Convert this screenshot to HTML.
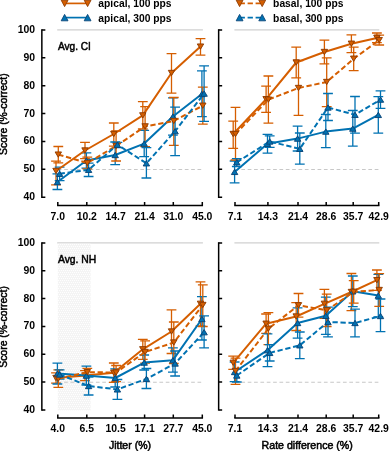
<!DOCTYPE html>
<html><head><meta charset="utf-8"><style>
html,body{margin:0;padding:0;background:#fff;}
body{width:389px;height:451px;overflow:hidden;}
svg{display:block;will-change:transform;}
text{font-family:"Liberation Sans",sans-serif;font-weight:bold;fill:#000;}
.tk{font-size:10.4px;}
.lg{font-size:10.3px;}
.lb{font-size:10.6px;font-weight:normal;stroke:#000;stroke-width:0.5px;}
.ax{font-size:10.3px;font-weight:normal;stroke:#000;stroke-width:0.5px;}
</style></head><body>
<svg width="389" height="451" viewBox="0 0 389 451" xmlns="http://www.w3.org/2000/svg">
<defs><pattern id="dots" width="4" height="4" patternUnits="userSpaceOnUse"><rect width="4" height="4" fill="#f4f4f4"/><rect x="0" y="0" width="1" height="1" fill="#fefefe"/><rect x="2" y="0" width="1" height="1" fill="#fefefe"/><rect x="1" y="2" width="1" height="1" fill="#fefefe"/><rect x="3" y="2" width="1" height="1" fill="#fefefe"/></pattern></defs>
<path d="M64.6 3.4H87.6" stroke="#D55E00" stroke-width="1.7"/>
<polygon points="61.2,0.2 68,0.2 64.6,6.6" fill="#D55E00" stroke="#8f3c00" stroke-width="0.9" stroke-linejoin="miter"/>
<polygon points="84.2,0.2 91,0.2 87.6,6.6" fill="#D55E00" stroke="#8f3c00" stroke-width="0.9" stroke-linejoin="miter"/>
<text x="98.3" y="7.3" class="lg">apical, 100 pps</text>
<path d="M64.6 17.6H87.6" stroke="#0072B2" stroke-width="1.7"/>
<polygon points="61.2,20.8 68,20.8 64.6,14.4" fill="#0072B2" stroke="#0a4577" stroke-width="0.9" stroke-linejoin="miter"/>
<polygon points="84.2,20.8 91,20.8 87.6,14.4" fill="#0072B2" stroke="#0a4577" stroke-width="0.9" stroke-linejoin="miter"/>
<text x="98.3" y="21.5" class="lg">apical, 300 pps</text>
<path d="M239.6 3.4H262.2" stroke="#D55E00" stroke-width="1.7" stroke-dasharray="5.3 2.7"/>
<polygon points="236.2,0.2 243,0.2 239.6,6.6" fill="#D55E00" stroke="#8f3c00" stroke-width="0.9" stroke-linejoin="miter"/>
<polygon points="258.8,0.2 265.6,0.2 262.2,6.6" fill="#D55E00" stroke="#8f3c00" stroke-width="0.9" stroke-linejoin="miter"/>
<text x="273.1" y="7.3" class="lg">basal, 100 pps</text>
<path d="M239.6 17.6H262.2" stroke="#0072B2" stroke-width="1.7" stroke-dasharray="5.3 2.7"/>
<polygon points="236.2,20.8 243,20.8 239.6,14.4" fill="#0072B2" stroke="#0a4577" stroke-width="0.9" stroke-linejoin="miter"/>
<polygon points="258.8,20.8 265.6,20.8 262.2,14.4" fill="#0072B2" stroke="#0a4577" stroke-width="0.9" stroke-linejoin="miter"/>
<text x="273.1" y="21.5" class="lg">basal, 300 pps</text>
<line x1="57.2" y1="29.95" x2="202.9" y2="29.95" stroke="#d0d0d0" stroke-width="1.2"/>
<line x1="57.8" y1="169.55" x2="202.3" y2="169.55" stroke="#c8c8c8" stroke-width="1.1" stroke-dasharray="3.7 2.65"/>
<path d="M41.85 29.95V197.23" stroke="#000" stroke-width="1.5" stroke-linecap="square" fill="none"/>
<path d="M41.85 197.23H45.35M41.85 169.35H45.35M41.85 141.47H45.35M41.85 113.59H45.35M41.85 85.71H45.35M41.85 57.83H45.35M41.85 29.95H45.35" stroke="#000" stroke-width="1.5" fill="none"/>
<text x="35" y="200.23" text-anchor="end" class="tk">40</text>
<text x="35" y="172.35" text-anchor="end" class="tk">50</text>
<text x="35" y="144.47" text-anchor="end" class="tk">60</text>
<text x="35" y="116.59" text-anchor="end" class="tk">70</text>
<text x="35" y="88.71" text-anchor="end" class="tk">80</text>
<text x="35" y="60.83" text-anchor="end" class="tk">90</text>
<text x="35" y="32.95" text-anchor="end" class="tk">100</text>
<path d="M57.8 205.6H202.3" stroke="#000" stroke-width="1.5" stroke-linecap="square" fill="none"/>
<path d="M57.8 205.6V202.1M86.8 205.6V202.1M115.6 205.6V202.1M144.6 205.6V202.1M173.3 205.6V202.1M202.3 205.6V202.1" stroke="#000" stroke-width="1.5" fill="none"/>
<text x="57.8" y="219.8" text-anchor="middle" class="tk">7.0</text>
<text x="86.8" y="219.8" text-anchor="middle" class="tk">10.2</text>
<text x="115.6" y="219.8" text-anchor="middle" class="tk">14.7</text>
<text x="144.6" y="219.8" text-anchor="middle" class="tk">21.4</text>
<text x="173.3" y="219.8" text-anchor="middle" class="tk">31.0</text>
<text x="202.3" y="219.8" text-anchor="middle" class="tk">45.0</text>
<text x="58" y="49.8" class="lb" textLength="32.9" lengthAdjust="spacingAndGlyphs">Avg. CI</text>
<line x1="234.4" y1="29.95" x2="379.3" y2="29.95" stroke="#d0d0d0" stroke-width="1.2"/>
<line x1="235" y1="169.55" x2="378.7" y2="169.55" stroke="#c8c8c8" stroke-width="1.1" stroke-dasharray="3.7 2.65"/>
<path d="M218.65 29.95V197.23" stroke="#000" stroke-width="1.5" stroke-linecap="square" fill="none"/>
<path d="M218.65 197.23H222.15M218.65 169.35H222.15M218.65 141.47H222.15M218.65 113.59H222.15M218.65 85.71H222.15M218.65 57.83H222.15M218.65 29.95H222.15" stroke="#000" stroke-width="1.5" fill="none"/>
<path d="M235 205.6H378.7" stroke="#000" stroke-width="1.5" stroke-linecap="square" fill="none"/>
<path d="M235 205.6V202.1M267.9 205.6V202.1M298 205.6V202.1M326.2 205.6V202.1M353.2 205.6V202.1M378.7 205.6V202.1" stroke="#000" stroke-width="1.5" fill="none"/>
<text x="235" y="219.8" text-anchor="middle" class="tk">7.1</text>
<text x="267.9" y="219.8" text-anchor="middle" class="tk">14.3</text>
<text x="298" y="219.8" text-anchor="middle" class="tk">21.4</text>
<text x="326.2" y="219.8" text-anchor="middle" class="tk">28.6</text>
<text x="353.2" y="219.8" text-anchor="middle" class="tk">35.7</text>
<text x="378.7" y="219.8" text-anchor="middle" class="tk">42.9</text>
<line x1="57.2" y1="242.95" x2="202.9" y2="242.95" stroke="#d0d0d0" stroke-width="1.2"/>
<rect x="57.8" y="243.55" width="32.8" height="166.85" fill="url(#dots)"/>
<line x1="57.8" y1="382.27" x2="202.3" y2="382.27" stroke="#c8c8c8" stroke-width="1.1" stroke-dasharray="3.7 2.65"/>
<path d="M41.85 242.95V409.9" stroke="#000" stroke-width="1.5" stroke-linecap="square" fill="none"/>
<path d="M41.85 409.9H45.35M41.85 382.07H45.35M41.85 354.25H45.35M41.85 326.43H45.35M41.85 298.6H45.35M41.85 270.77H45.35M41.85 242.95H45.35" stroke="#000" stroke-width="1.5" fill="none"/>
<text x="35" y="412.9" text-anchor="end" class="tk">40</text>
<text x="35" y="385.07" text-anchor="end" class="tk">50</text>
<text x="35" y="357.25" text-anchor="end" class="tk">60</text>
<text x="35" y="329.43" text-anchor="end" class="tk">70</text>
<text x="35" y="301.6" text-anchor="end" class="tk">80</text>
<text x="35" y="273.77" text-anchor="end" class="tk">90</text>
<text x="35" y="245.95" text-anchor="end" class="tk">100</text>
<path d="M57.8 418H202.3" stroke="#000" stroke-width="1.5" stroke-linecap="square" fill="none"/>
<path d="M57.8 418V414.5M86.8 418V414.5M115.6 418V414.5M144.6 418V414.5M173.3 418V414.5M202.3 418V414.5" stroke="#000" stroke-width="1.5" fill="none"/>
<text x="57.8" y="432.2" text-anchor="middle" class="tk">4.0</text>
<text x="86.8" y="432.2" text-anchor="middle" class="tk">6.5</text>
<text x="115.6" y="432.2" text-anchor="middle" class="tk">10.5</text>
<text x="144.6" y="432.2" text-anchor="middle" class="tk">17.1</text>
<text x="173.3" y="432.2" text-anchor="middle" class="tk">27.7</text>
<text x="202.3" y="432.2" text-anchor="middle" class="tk">45.0</text>
<text x="58" y="263.1" class="lb" textLength="38.3" lengthAdjust="spacingAndGlyphs">Avg. NH</text>
<line x1="234.4" y1="242.95" x2="379.3" y2="242.95" stroke="#d0d0d0" stroke-width="1.2"/>
<line x1="235" y1="382.27" x2="378.7" y2="382.27" stroke="#c8c8c8" stroke-width="1.1" stroke-dasharray="3.7 2.65"/>
<path d="M218.65 242.95V409.9" stroke="#000" stroke-width="1.5" stroke-linecap="square" fill="none"/>
<path d="M218.65 409.9H222.15M218.65 382.07H222.15M218.65 354.25H222.15M218.65 326.43H222.15M218.65 298.6H222.15M218.65 270.77H222.15M218.65 242.95H222.15" stroke="#000" stroke-width="1.5" fill="none"/>
<path d="M235 418H378.7" stroke="#000" stroke-width="1.5" stroke-linecap="square" fill="none"/>
<path d="M235 418V414.5M267.9 418V414.5M298 418V414.5M326.2 418V414.5M353.2 418V414.5M378.7 418V414.5" stroke="#000" stroke-width="1.5" fill="none"/>
<text x="235" y="432.2" text-anchor="middle" class="tk">7.1</text>
<text x="267.9" y="432.2" text-anchor="middle" class="tk">14.3</text>
<text x="298" y="432.2" text-anchor="middle" class="tk">21.4</text>
<text x="326.2" y="432.2" text-anchor="middle" class="tk">28.6</text>
<text x="353.2" y="432.2" text-anchor="middle" class="tk">35.7</text>
<text x="378.7" y="432.2" text-anchor="middle" class="tk">42.9</text>
<path d="M56 161.2V184.8M51.1 161.2H60.9M51.1 184.8H60.9M85 142.4V158.6M80.1 142.4H89.9M80.1 158.6H89.9M113.8 123V146.2M108.9 123H118.7M108.9 146.2H118.7M142.8 101.7V129M137.9 101.7H147.7M137.9 129H147.7M171.5 53.6V93.2M166.6 53.6H176.4M166.6 93.2H176.4M200.5 38.7V55.1M195.6 38.7H205.4M195.6 55.1H205.4" stroke="#D55E00" stroke-width="1.3" fill="none"/>
<path d="M57.4 173.8V189.5M52.5 173.8H62.3M52.5 189.5H62.3M86.4 152.8V168.2M81.5 152.8H91.3M81.5 168.2H91.3M115.2 142V164.7M110.3 142H120.1M110.3 164.7H120.1M144.2 130.4V156.6M139.3 130.4H149.1M139.3 156.6H149.1M172.9 97.9V135.1M168 97.9H177.8M168 135.1H177.8M201.9 70.9V116.7M197 70.9H206.8M197 116.7H206.8" stroke="#0072B2" stroke-width="1.3" fill="none"/>
<path d="M58.3 146.5V162.8M53.4 146.5H63.2M53.4 162.8H63.2M87.3 157.1V168.9M82.4 157.1H92.2M82.4 168.9H92.2M116.1 131V161M111.2 131H121M111.2 161H121M145.1 106.6V146.6M140.2 106.6H150M140.2 146.6H150M173.8 97.5V145.3M168.9 97.5H178.7M168.9 145.3H178.7M202.8 87.2V124.1M197.9 87.2H207.7M197.9 124.1H207.7" stroke="#D55E00" stroke-width="1.3" fill="none"/>
<path d="M59.6 167.1V180.6M54.7 167.1H64.5M54.7 180.6H64.5M88.6 163.1V176.5M83.7 163.1H93.5M83.7 176.5H93.5M117.4 142.4V147.6M112.5 142.4H122.3M112.5 147.6H122.3M146.4 147.7V178M141.5 147.7H151.3M141.5 178H151.3M175.1 107.2V155.7M170.2 107.2H180M170.2 155.7H180M204.1 65.9V121.3M199.2 65.9H209M199.2 121.3H209" stroke="#0072B2" stroke-width="1.3" fill="none"/>
<path d="M56 171 L85 150.5 L113.8 134 L142.8 115.4 L171.5 73 L200.5 46.6" stroke="#D55E00" stroke-width="2.0" fill="none" stroke-linejoin="round"/>
<polygon points="52.8,168.34 59.2,168.34 56,173.66" fill="#D55E00" stroke="#8f3c00" stroke-width="0.95" stroke-linejoin="miter"/>
<polygon points="81.8,147.84 88.2,147.84 85,153.16" fill="#D55E00" stroke="#8f3c00" stroke-width="0.95" stroke-linejoin="miter"/>
<polygon points="110.6,131.34 117,131.34 113.8,136.66" fill="#D55E00" stroke="#8f3c00" stroke-width="0.95" stroke-linejoin="miter"/>
<polygon points="139.6,112.74 146,112.74 142.8,118.06" fill="#D55E00" stroke="#8f3c00" stroke-width="0.95" stroke-linejoin="miter"/>
<polygon points="168.3,70.34 174.7,70.34 171.5,75.66" fill="#D55E00" stroke="#8f3c00" stroke-width="0.95" stroke-linejoin="miter"/>
<polygon points="197.3,43.94 203.7,43.94 200.5,49.26" fill="#D55E00" stroke="#8f3c00" stroke-width="0.95" stroke-linejoin="miter"/>
<path d="M57.4 182 L86.4 160.5 L115.2 155 L144.2 143.6 L172.9 116.5 L201.9 94" stroke="#0072B2" stroke-width="2.0" fill="none" stroke-linejoin="round"/>
<polygon points="54.2,184.66 60.6,184.66 57.4,179.34" fill="#0072B2" stroke="#0a4577" stroke-width="0.95" stroke-linejoin="miter"/>
<polygon points="83.2,163.16 89.6,163.16 86.4,157.84" fill="#0072B2" stroke="#0a4577" stroke-width="0.95" stroke-linejoin="miter"/>
<polygon points="112,157.66 118.4,157.66 115.2,152.34" fill="#0072B2" stroke="#0a4577" stroke-width="0.95" stroke-linejoin="miter"/>
<polygon points="141,146.26 147.4,146.26 144.2,140.94" fill="#0072B2" stroke="#0a4577" stroke-width="0.95" stroke-linejoin="miter"/>
<polygon points="169.7,119.16 176.1,119.16 172.9,113.84" fill="#0072B2" stroke="#0a4577" stroke-width="0.95" stroke-linejoin="miter"/>
<polygon points="198.7,96.66 205.1,96.66 201.9,91.34" fill="#0072B2" stroke="#0a4577" stroke-width="0.95" stroke-linejoin="miter"/>
<path d="M58.3 154.6 L87.3 163 L116.1 146 L145.1 126.4 L173.8 121 L202.8 105.7" stroke="#D55E00" stroke-width="2.0" fill="none" stroke-linejoin="round" stroke-dasharray="5.3 2.7"/>
<polygon points="55.1,151.94 61.5,151.94 58.3,157.26" fill="#D55E00" stroke="#8f3c00" stroke-width="0.95" stroke-linejoin="miter"/>
<polygon points="84.1,160.34 90.5,160.34 87.3,165.66" fill="#D55E00" stroke="#8f3c00" stroke-width="0.95" stroke-linejoin="miter"/>
<polygon points="112.9,143.34 119.3,143.34 116.1,148.66" fill="#D55E00" stroke="#8f3c00" stroke-width="0.95" stroke-linejoin="miter"/>
<polygon points="141.9,123.74 148.3,123.74 145.1,129.06" fill="#D55E00" stroke="#8f3c00" stroke-width="0.95" stroke-linejoin="miter"/>
<polygon points="170.6,118.34 177,118.34 173.8,123.66" fill="#D55E00" stroke="#8f3c00" stroke-width="0.95" stroke-linejoin="miter"/>
<polygon points="199.6,103.04 206,103.04 202.8,108.36" fill="#D55E00" stroke="#8f3c00" stroke-width="0.95" stroke-linejoin="miter"/>
<path d="M59.6 173.8 L88.6 169.8 L117.4 144.7 L146.4 163.3 L175.1 131.2 L204.1 93.6" stroke="#0072B2" stroke-width="2.0" fill="none" stroke-linejoin="round" stroke-dasharray="5.3 2.7"/>
<polygon points="56.4,176.46 62.8,176.46 59.6,171.14" fill="#0072B2" stroke="#0a4577" stroke-width="0.95" stroke-linejoin="miter"/>
<polygon points="85.4,172.46 91.8,172.46 88.6,167.14" fill="#0072B2" stroke="#0a4577" stroke-width="0.95" stroke-linejoin="miter"/>
<polygon points="114.2,147.36 120.6,147.36 117.4,142.04" fill="#0072B2" stroke="#0a4577" stroke-width="0.95" stroke-linejoin="miter"/>
<polygon points="143.2,165.96 149.6,165.96 146.4,160.64" fill="#0072B2" stroke="#0a4577" stroke-width="0.95" stroke-linejoin="miter"/>
<polygon points="171.9,133.86 178.3,133.86 175.1,128.54" fill="#0072B2" stroke="#0a4577" stroke-width="0.95" stroke-linejoin="miter"/>
<polygon points="200.9,96.26 207.3,96.26 204.1,90.94" fill="#0072B2" stroke="#0a4577" stroke-width="0.95" stroke-linejoin="miter"/>
<path d="M233.2 121.1V148.3M228.3 121.1H238.1M228.3 148.3H238.1M266.1 86.2V112.3M261.2 86.2H271M261.2 112.3H271M296.2 47.1V77.8M291.3 47.1H301.1M291.3 77.8H301.1M324.4 40.1V63.8M319.5 40.1H329.3M319.5 63.8H329.3M351.4 34.8V52.6M346.5 34.8H356.3M346.5 52.6H356.3M376.9 33V42.7M372 33H381.8M372 42.7H381.8" stroke="#D55E00" stroke-width="1.3" fill="none"/>
<path d="M234.6 161V182.8M229.7 161H239.5M229.7 182.8H239.5M267.5 134.4V153.2M262.6 134.4H272.4M262.6 153.2H272.4M297.6 126.1V151M292.7 126.1H302.5M292.7 151H302.5M325.8 114.5V147.7M320.9 114.5H330.7M320.9 147.7H330.7M352.8 110.5V146.2M347.9 110.5H357.7M347.9 146.2H357.7M378.3 96.6V133.2M373.4 96.6H383.2M373.4 133.2H383.2" stroke="#0072B2" stroke-width="1.3" fill="none"/>
<path d="M235.5 107.3V160M230.6 107.3H240.4M230.6 160H240.4M268.4 76V123.2M263.5 76H273.3M263.5 123.2H273.3M298.5 60.5V115.4M293.6 60.5H303.4M293.6 115.4H303.4M326.7 57.8V106.7M321.8 57.8H331.6M321.8 106.7H331.6M353.7 47.2V70.7M348.8 47.2H358.6M348.8 70.7H358.6M379.2 35.2V45M374.3 35.2H384.1M374.3 45H384.1" stroke="#D55E00" stroke-width="1.3" fill="none"/>
<path d="M236.8 158.6V166.5M231.9 158.6H241.7M231.9 166.5H241.7M269.7 135.8V147.3M264.8 135.8H274.6M264.8 147.3H274.6M299.8 133V164.1M294.9 133H304.7M294.9 164.1H304.7M328 93.5V120.5M323.1 93.5H332.9M323.1 120.5H332.9M355 96.5V133.1M350.1 96.5H359.9M350.1 133.1H359.9M380.5 90.9V108.3M375.6 90.9H385.4M375.6 108.3H385.4" stroke="#0072B2" stroke-width="1.3" fill="none"/>
<path d="M233.2 134 L266.1 99.2 L296.2 62.5 L324.4 52 L351.4 43.7 L376.9 37.9" stroke="#D55E00" stroke-width="2.0" fill="none" stroke-linejoin="round"/>
<polygon points="230,131.34 236.4,131.34 233.2,136.66" fill="#D55E00" stroke="#8f3c00" stroke-width="0.95" stroke-linejoin="miter"/>
<polygon points="262.9,96.54 269.3,96.54 266.1,101.86" fill="#D55E00" stroke="#8f3c00" stroke-width="0.95" stroke-linejoin="miter"/>
<polygon points="293,59.84 299.4,59.84 296.2,65.16" fill="#D55E00" stroke="#8f3c00" stroke-width="0.95" stroke-linejoin="miter"/>
<polygon points="321.2,49.34 327.6,49.34 324.4,54.66" fill="#D55E00" stroke="#8f3c00" stroke-width="0.95" stroke-linejoin="miter"/>
<polygon points="348.2,41.04 354.6,41.04 351.4,46.36" fill="#D55E00" stroke="#8f3c00" stroke-width="0.95" stroke-linejoin="miter"/>
<polygon points="373.7,35.24 380.1,35.24 376.9,40.56" fill="#D55E00" stroke="#8f3c00" stroke-width="0.95" stroke-linejoin="miter"/>
<path d="M234.6 171.9 L267.5 143.8 L297.6 138.6 L325.8 131.6 L352.8 128.6 L378.3 114.9" stroke="#0072B2" stroke-width="2.0" fill="none" stroke-linejoin="round"/>
<polygon points="231.4,174.56 237.8,174.56 234.6,169.24" fill="#0072B2" stroke="#0a4577" stroke-width="0.95" stroke-linejoin="miter"/>
<polygon points="264.3,146.46 270.7,146.46 267.5,141.14" fill="#0072B2" stroke="#0a4577" stroke-width="0.95" stroke-linejoin="miter"/>
<polygon points="294.4,141.26 300.8,141.26 297.6,135.94" fill="#0072B2" stroke="#0a4577" stroke-width="0.95" stroke-linejoin="miter"/>
<polygon points="322.6,134.26 329,134.26 325.8,128.94" fill="#0072B2" stroke="#0a4577" stroke-width="0.95" stroke-linejoin="miter"/>
<polygon points="349.6,131.26 356,131.26 352.8,125.94" fill="#0072B2" stroke="#0a4577" stroke-width="0.95" stroke-linejoin="miter"/>
<polygon points="375.1,117.56 381.5,117.56 378.3,112.24" fill="#0072B2" stroke="#0a4577" stroke-width="0.95" stroke-linejoin="miter"/>
<path d="M235.5 134 L268.4 99.6 L298.5 88 L326.7 82 L353.7 58.7 L379.2 40.1" stroke="#D55E00" stroke-width="2.0" fill="none" stroke-linejoin="round" stroke-dasharray="5.3 2.7"/>
<polygon points="232.3,131.34 238.7,131.34 235.5,136.66" fill="#D55E00" stroke="#8f3c00" stroke-width="0.95" stroke-linejoin="miter"/>
<polygon points="265.2,96.94 271.6,96.94 268.4,102.26" fill="#D55E00" stroke="#8f3c00" stroke-width="0.95" stroke-linejoin="miter"/>
<polygon points="295.3,85.34 301.7,85.34 298.5,90.66" fill="#D55E00" stroke="#8f3c00" stroke-width="0.95" stroke-linejoin="miter"/>
<polygon points="323.5,79.34 329.9,79.34 326.7,84.66" fill="#D55E00" stroke="#8f3c00" stroke-width="0.95" stroke-linejoin="miter"/>
<polygon points="350.5,56.04 356.9,56.04 353.7,61.36" fill="#D55E00" stroke="#8f3c00" stroke-width="0.95" stroke-linejoin="miter"/>
<polygon points="376,37.44 382.4,37.44 379.2,42.76" fill="#D55E00" stroke="#8f3c00" stroke-width="0.95" stroke-linejoin="miter"/>
<path d="M236.8 162.3 L269.7 141.5 L299.8 148.8 L328 107.5 L355 114.8 L380.5 99.6" stroke="#0072B2" stroke-width="2.0" fill="none" stroke-linejoin="round" stroke-dasharray="5.3 2.7"/>
<polygon points="233.6,164.96 240,164.96 236.8,159.64" fill="#0072B2" stroke="#0a4577" stroke-width="0.95" stroke-linejoin="miter"/>
<polygon points="266.5,144.16 272.9,144.16 269.7,138.84" fill="#0072B2" stroke="#0a4577" stroke-width="0.95" stroke-linejoin="miter"/>
<polygon points="296.6,151.46 303,151.46 299.8,146.14" fill="#0072B2" stroke="#0a4577" stroke-width="0.95" stroke-linejoin="miter"/>
<polygon points="324.8,110.16 331.2,110.16 328,104.84" fill="#0072B2" stroke="#0a4577" stroke-width="0.95" stroke-linejoin="miter"/>
<polygon points="351.8,117.46 358.2,117.46 355,112.14" fill="#0072B2" stroke="#0a4577" stroke-width="0.95" stroke-linejoin="miter"/>
<polygon points="377.3,102.26 383.7,102.26 380.5,96.94" fill="#0072B2" stroke="#0a4577" stroke-width="0.95" stroke-linejoin="miter"/>
<path d="M56 372.8V383.2M51.1 372.8H60.9M51.1 383.2H60.9M85 370.6V380.6M80.1 370.6H89.9M80.1 380.6H89.9M113.8 363V382.4M108.9 363H118.7M108.9 382.4H118.7M142.8 339.3V359.3M137.9 339.3H147.7M137.9 359.3H147.7M171.5 309.8V353.5M166.6 309.8H176.4M166.6 353.5H176.4M200.5 281.9V326M195.6 281.9H205.4M195.6 326H205.4" stroke="#D55E00" stroke-width="1.3" fill="none"/>
<path d="M57.4 363.2V384M52.5 363.2H62.3M52.5 384H62.3M86.4 366.2V385M81.5 366.2H91.3M81.5 385H91.3M115.2 368.9V387M110.3 368.9H120.1M110.3 387H120.1M144.2 355V370M139.3 355H149.1M139.3 370H149.1M172.9 347.8V372.2M168 347.8H177.8M168 372.2H177.8M201.9 296.7V340M197 296.7H206.8M197 340H206.8" stroke="#0072B2" stroke-width="1.3" fill="none"/>
<path d="M58.3 369.9V387.4M53.4 369.9H63.2M53.4 387.4H63.2M87.3 368.4V376M82.4 368.4H92.2M82.4 376H92.2M116.1 365.5V381.6M111.2 365.5H121M111.2 381.6H121M145.1 340.9V363.2M140.2 340.9H150M140.2 363.2H150M173.8 322V363.5M168.9 322H178.7M168.9 363.5H178.7M202.8 284.9V326.5M197.9 284.9H207.7M197.9 326.5H207.7" stroke="#D55E00" stroke-width="1.3" fill="none"/>
<path d="M59.6 369.9V379M54.7 369.9H64.5M54.7 379H64.5M88.6 377V395M83.7 377H93.5M83.7 395H93.5M117.4 379.5V399.3M112.5 379.5H122.3M112.5 399.3H122.3M146.4 368.5V388.5M141.5 368.5H151.3M141.5 388.5H151.3M175.1 351V376M170.2 351H180M170.2 376H180M204.1 315.8V347.8M199.2 315.8H209M199.2 347.8H209" stroke="#0072B2" stroke-width="1.3" fill="none"/>
<path d="M56 378 L85 375.6 L113.8 372.7 L142.8 349.3 L171.5 331.5 L200.5 303.8" stroke="#D55E00" stroke-width="2.0" fill="none" stroke-linejoin="round"/>
<polygon points="52.8,375.34 59.2,375.34 56,380.66" fill="#D55E00" stroke="#8f3c00" stroke-width="0.95" stroke-linejoin="miter"/>
<polygon points="81.8,372.94 88.2,372.94 85,378.26" fill="#D55E00" stroke="#8f3c00" stroke-width="0.95" stroke-linejoin="miter"/>
<polygon points="110.6,370.04 117,370.04 113.8,375.36" fill="#D55E00" stroke="#8f3c00" stroke-width="0.95" stroke-linejoin="miter"/>
<polygon points="139.6,346.64 146,346.64 142.8,351.96" fill="#D55E00" stroke="#8f3c00" stroke-width="0.95" stroke-linejoin="miter"/>
<polygon points="168.3,328.84 174.7,328.84 171.5,334.16" fill="#D55E00" stroke="#8f3c00" stroke-width="0.95" stroke-linejoin="miter"/>
<polygon points="197.3,301.14 203.7,301.14 200.5,306.46" fill="#D55E00" stroke="#8f3c00" stroke-width="0.95" stroke-linejoin="miter"/>
<path d="M57.4 373.6 L86.4 375.6 L115.2 378 L144.2 362.6 L172.9 360.2 L201.9 319" stroke="#0072B2" stroke-width="2.0" fill="none" stroke-linejoin="round"/>
<polygon points="54.2,376.26 60.6,376.26 57.4,370.94" fill="#0072B2" stroke="#0a4577" stroke-width="0.95" stroke-linejoin="miter"/>
<polygon points="83.2,378.26 89.6,378.26 86.4,372.94" fill="#0072B2" stroke="#0a4577" stroke-width="0.95" stroke-linejoin="miter"/>
<polygon points="112,380.66 118.4,380.66 115.2,375.34" fill="#0072B2" stroke="#0a4577" stroke-width="0.95" stroke-linejoin="miter"/>
<polygon points="141,365.26 147.4,365.26 144.2,359.94" fill="#0072B2" stroke="#0a4577" stroke-width="0.95" stroke-linejoin="miter"/>
<polygon points="169.7,362.86 176.1,362.86 172.9,357.54" fill="#0072B2" stroke="#0a4577" stroke-width="0.95" stroke-linejoin="miter"/>
<polygon points="198.7,321.66 205.1,321.66 201.9,316.34" fill="#0072B2" stroke="#0a4577" stroke-width="0.95" stroke-linejoin="miter"/>
<path d="M58.3 378.7 L87.3 372.2 L116.1 372.5 L145.1 352 L173.8 342.5 L202.8 305" stroke="#D55E00" stroke-width="2.0" fill="none" stroke-linejoin="round" stroke-dasharray="5.3 2.7"/>
<polygon points="55.1,376.04 61.5,376.04 58.3,381.36" fill="#D55E00" stroke="#8f3c00" stroke-width="0.95" stroke-linejoin="miter"/>
<polygon points="84.1,369.54 90.5,369.54 87.3,374.86" fill="#D55E00" stroke="#8f3c00" stroke-width="0.95" stroke-linejoin="miter"/>
<polygon points="112.9,369.84 119.3,369.84 116.1,375.16" fill="#D55E00" stroke="#8f3c00" stroke-width="0.95" stroke-linejoin="miter"/>
<polygon points="141.9,349.34 148.3,349.34 145.1,354.66" fill="#D55E00" stroke="#8f3c00" stroke-width="0.95" stroke-linejoin="miter"/>
<polygon points="170.6,339.84 177,339.84 173.8,345.16" fill="#D55E00" stroke="#8f3c00" stroke-width="0.95" stroke-linejoin="miter"/>
<polygon points="199.6,302.34 206,302.34 202.8,307.66" fill="#D55E00" stroke="#8f3c00" stroke-width="0.95" stroke-linejoin="miter"/>
<path d="M59.6 374.5 L88.6 386 L117.4 389.4 L146.4 378.9 L175.1 363.5 L204.1 332.2" stroke="#0072B2" stroke-width="2.0" fill="none" stroke-linejoin="round" stroke-dasharray="5.3 2.7"/>
<polygon points="56.4,377.16 62.8,377.16 59.6,371.84" fill="#0072B2" stroke="#0a4577" stroke-width="0.95" stroke-linejoin="miter"/>
<polygon points="85.4,388.66 91.8,388.66 88.6,383.34" fill="#0072B2" stroke="#0a4577" stroke-width="0.95" stroke-linejoin="miter"/>
<polygon points="114.2,392.06 120.6,392.06 117.4,386.74" fill="#0072B2" stroke="#0a4577" stroke-width="0.95" stroke-linejoin="miter"/>
<polygon points="143.2,381.56 149.6,381.56 146.4,376.24" fill="#0072B2" stroke="#0a4577" stroke-width="0.95" stroke-linejoin="miter"/>
<polygon points="171.9,366.16 178.3,366.16 175.1,360.84" fill="#0072B2" stroke="#0a4577" stroke-width="0.95" stroke-linejoin="miter"/>
<polygon points="200.9,334.86 207.3,334.86 204.1,329.54" fill="#0072B2" stroke="#0a4577" stroke-width="0.95" stroke-linejoin="miter"/>
<path d="M233.2 356.2V369.3M228.3 356.2H238.1M228.3 369.3H238.1M266.1 314V333.4M261.2 314H271M261.2 333.4H271M296.2 302.7V330.5M291.3 302.7H301.1M291.3 330.5H301.1M324.4 289.3V318.3M319.5 289.3H329.3M319.5 318.3H329.3M351.4 273.5V310.7M346.5 273.5H356.3M346.5 310.7H356.3M376.9 270V290.4M372 270H381.8M372 290.4H381.8" stroke="#D55E00" stroke-width="1.3" fill="none"/>
<path d="M234.6 362V381.7M229.7 362H239.5M229.7 381.7H239.5M267.5 333.9V366.6M262.6 333.9H272.4M262.6 366.6H272.4M297.6 307.8V338.2M292.7 307.8H302.5M292.7 338.2H302.5M325.8 297.2V334.4M320.9 297.2H330.7M320.9 334.4H330.7M352.8 276V306.7M347.9 276H357.7M347.9 306.7H357.7M378.3 274.4V316.8M373.4 274.4H383.2M373.4 316.8H383.2" stroke="#0072B2" stroke-width="1.3" fill="none"/>
<path d="M235.5 358.1V384.3M230.6 358.1H240.4M230.6 384.3H240.4M268.4 312.7V344.7M263.5 312.7H273.3M263.5 344.7H273.3M298.5 293.5V317.1M293.6 293.5H303.4M293.6 317.1H303.4M326.7 294.1V326.5M321.8 294.1H331.6M321.8 326.5H331.6M353.7 280.6V303.1M348.8 280.6H358.6M348.8 303.1H358.6M379.2 273.7V306.3M374.3 273.7H384.1M374.3 306.3H384.1" stroke="#D55E00" stroke-width="1.3" fill="none"/>
<path d="M236.8 369V382M231.9 369H241.7M231.9 382H241.7M269.7 344.7V361M264.8 344.7H274.6M264.8 361H274.6M299.8 332V358.6M294.9 332H304.7M294.9 358.6H304.7M328 307.2V336.8M323.1 307.2H332.9M323.1 336.8H332.9M355 309.2V336.8M350.1 309.2H359.9M350.1 336.8H359.9M380.5 299V331.7M375.6 299H385.4M375.6 331.7H385.4" stroke="#0072B2" stroke-width="1.3" fill="none"/>
<path d="M233.2 362.8 L266.1 323.7 L296.2 316.5 L324.4 303.8 L351.4 292 L376.9 280.2" stroke="#D55E00" stroke-width="2.0" fill="none" stroke-linejoin="round"/>
<polygon points="230,360.14 236.4,360.14 233.2,365.46" fill="#D55E00" stroke="#8f3c00" stroke-width="0.95" stroke-linejoin="miter"/>
<polygon points="262.9,321.04 269.3,321.04 266.1,326.36" fill="#D55E00" stroke="#8f3c00" stroke-width="0.95" stroke-linejoin="miter"/>
<polygon points="293,313.84 299.4,313.84 296.2,319.16" fill="#D55E00" stroke="#8f3c00" stroke-width="0.95" stroke-linejoin="miter"/>
<polygon points="321.2,301.14 327.6,301.14 324.4,306.46" fill="#D55E00" stroke="#8f3c00" stroke-width="0.95" stroke-linejoin="miter"/>
<polygon points="348.2,289.34 354.6,289.34 351.4,294.66" fill="#D55E00" stroke="#8f3c00" stroke-width="0.95" stroke-linejoin="miter"/>
<polygon points="373.7,277.54 380.1,277.54 376.9,282.86" fill="#D55E00" stroke="#8f3c00" stroke-width="0.95" stroke-linejoin="miter"/>
<path d="M234.6 372 L267.5 350.2 L297.6 323 L325.8 315.8 L352.8 291.3 L378.3 295.6" stroke="#0072B2" stroke-width="2.0" fill="none" stroke-linejoin="round"/>
<polygon points="231.4,374.66 237.8,374.66 234.6,369.34" fill="#0072B2" stroke="#0a4577" stroke-width="0.95" stroke-linejoin="miter"/>
<polygon points="264.3,352.86 270.7,352.86 267.5,347.54" fill="#0072B2" stroke="#0a4577" stroke-width="0.95" stroke-linejoin="miter"/>
<polygon points="294.4,325.66 300.8,325.66 297.6,320.34" fill="#0072B2" stroke="#0a4577" stroke-width="0.95" stroke-linejoin="miter"/>
<polygon points="322.6,318.46 329,318.46 325.8,313.14" fill="#0072B2" stroke="#0a4577" stroke-width="0.95" stroke-linejoin="miter"/>
<polygon points="349.6,293.96 356,293.96 352.8,288.64" fill="#0072B2" stroke="#0a4577" stroke-width="0.95" stroke-linejoin="miter"/>
<polygon points="375.1,298.26 381.5,298.26 378.3,292.94" fill="#0072B2" stroke="#0a4577" stroke-width="0.95" stroke-linejoin="miter"/>
<path d="M235.5 371 L268.4 328.7 L298.5 305.3 L326.7 310.3 L353.7 291.8 L379.2 290" stroke="#D55E00" stroke-width="2.0" fill="none" stroke-linejoin="round" stroke-dasharray="5.3 2.7"/>
<polygon points="232.3,368.34 238.7,368.34 235.5,373.66" fill="#D55E00" stroke="#8f3c00" stroke-width="0.95" stroke-linejoin="miter"/>
<polygon points="265.2,326.04 271.6,326.04 268.4,331.36" fill="#D55E00" stroke="#8f3c00" stroke-width="0.95" stroke-linejoin="miter"/>
<polygon points="295.3,302.64 301.7,302.64 298.5,307.96" fill="#D55E00" stroke="#8f3c00" stroke-width="0.95" stroke-linejoin="miter"/>
<polygon points="323.5,307.64 329.9,307.64 326.7,312.96" fill="#D55E00" stroke="#8f3c00" stroke-width="0.95" stroke-linejoin="miter"/>
<polygon points="350.5,289.14 356.9,289.14 353.7,294.46" fill="#D55E00" stroke="#8f3c00" stroke-width="0.95" stroke-linejoin="miter"/>
<polygon points="376,287.34 382.4,287.34 379.2,292.66" fill="#D55E00" stroke="#8f3c00" stroke-width="0.95" stroke-linejoin="miter"/>
<path d="M236.8 375.5 L269.7 352.9 L299.8 345.3 L328 322 L355 323 L380.5 316" stroke="#0072B2" stroke-width="2.0" fill="none" stroke-linejoin="round" stroke-dasharray="5.3 2.7"/>
<polygon points="233.6,378.16 240,378.16 236.8,372.84" fill="#0072B2" stroke="#0a4577" stroke-width="0.95" stroke-linejoin="miter"/>
<polygon points="266.5,355.56 272.9,355.56 269.7,350.24" fill="#0072B2" stroke="#0a4577" stroke-width="0.95" stroke-linejoin="miter"/>
<polygon points="296.6,347.96 303,347.96 299.8,342.64" fill="#0072B2" stroke="#0a4577" stroke-width="0.95" stroke-linejoin="miter"/>
<polygon points="324.8,324.66 331.2,324.66 328,319.34" fill="#0072B2" stroke="#0a4577" stroke-width="0.95" stroke-linejoin="miter"/>
<polygon points="351.8,325.66 358.2,325.66 355,320.34" fill="#0072B2" stroke="#0a4577" stroke-width="0.95" stroke-linejoin="miter"/>
<polygon points="377.3,318.66 383.7,318.66 380.5,313.34" fill="#0072B2" stroke="#0a4577" stroke-width="0.95" stroke-linejoin="miter"/>
<text transform="translate(7.2,155) rotate(-90)" class="ax" textLength="81.7" lengthAdjust="spacingAndGlyphs">Score (%-correct)</text>
<text transform="translate(7.2,367.8) rotate(-90)" class="ax" textLength="81.7" lengthAdjust="spacingAndGlyphs">Score (%-correct)</text>
<text x="108.9" y="448.9" class="ax" textLength="42.2" lengthAdjust="spacingAndGlyphs">Jitter (%)</text>
<text x="261.6" y="448.9" class="ax" textLength="91.2" lengthAdjust="spacingAndGlyphs">Rate difference (%)</text>
</svg>
</body></html>
